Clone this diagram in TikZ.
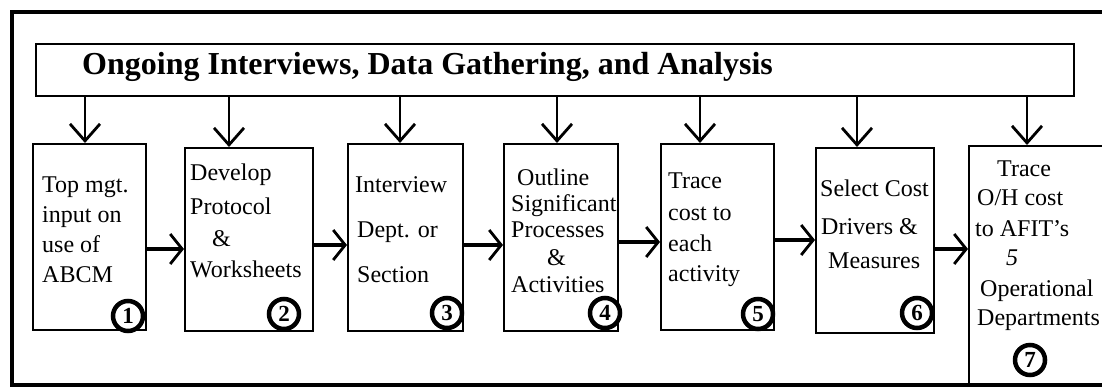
\documentclass[tikz,border=0pt]{standalone}
\usepackage{fontspec}
\setmainfont{Liberation Serif}
\usetikzlibrary{arrows.meta}
\begin{document}
\begin{tikzpicture}[x=1pt,y=-1pt,
  frame/.style={line width=3.6pt},
  headbox/.style={draw, line width=1.8pt, anchor=north west, inner sep=0pt},
  stepbox/.style={draw, line width=1.5pt, anchor=north west, inner sep=0pt},
  down/.style={line width=2.4pt, -{Straight Barb[length=17pt,width=30pt,line width=2.8pt]}},
  flow/.style={line width=4pt, -{Straight Barb[length=12pt,width=30pt,line width=2.8pt]}},
  num/.style={circle, draw, line width=4.5pt, fill=white, inner sep=0pt,
    minimum size=30pt, font=\fontsize{23}{23}\selectfont\bfseries},
  ln/.style={anchor=base west, inner sep=0pt, font=\fontsize{24}{24}\selectfont},
  title/.style={anchor=base west, inner sep=0pt, font=\fontsize{32}{32}\selectfont\bfseries},
]
\useasboundingbox (0,0) rectangle (1102,389);

% outer frame (open on the right)
\draw[frame] (1106,12) -- (12,12) -- (12,385) -- (1106,385);

% heading bar
\node[headbox, minimum width=1038pt, minimum height=52pt] (head) at (35,43) {};
\node[title] (ttl) at (82,74) {Ongoing Interviews, Data Gathering, and Analysis};

% process steps
\node[stepbox, minimum width=113pt, minimum height=186pt] (b1) at (32,143) {};
\node[stepbox, minimum width=128pt, minimum height=183pt] (b2) at (184,147) {};
\node[stepbox, minimum width=115pt, minimum height=187pt] (b3) at (347,143) {};
\node[stepbox, minimum width=114pt, minimum height=187pt] (b4) at (503,143) {};
\node[stepbox, minimum width=113pt, minimum height=186pt] (b5) at (660,143) {};
\node[stepbox, minimum width=118pt, minimum height=185pt] (b6) at (815,147) {};
\node[stepbox, minimum width=140pt, minimum height=238pt] (b7) at (968,145) {};

% step texts
\node[ln] (t1a) at (42,192) {Top mgt.};
\node[ln] (t1b) at (42,222) {input on};
\node[ln] (t1c) at (42,252) {use of};
\node[ln] (t1d) at (42,282) {ABCM};

\node[ln] (t2a) at (190,180) {Develop};
\node[ln] (t2b) at (190,214) {Protocol};
\node[ln] (t2c) at (212,246) {\&};
\node[ln] (t2d) at (190,277) {Worksheets};

\node[ln] (t3a) at (355,192) {Interview};
\node[ln] (t3b) at (357,237) {Dept. or};
\node[ln] (t3c) at (357,282) {Section};

\node[ln] (t4a) at (517,185) {Outline};
\node[ln] (t4b) at (511,211) {Significant};
\node[ln] (t4c) at (511,237) {Processes};
\node[ln] (t4d) at (547,265) {\&};
\node[ln] (t4e) at (511,292) {Activities};

\node[ln] (t5a) at (668,188) {Trace};
\node[ln] (t5b) at (668,220) {cost to};
\node[ln] (t5c) at (668,251) {each};
\node[ln] (t5d) at (668,281) {activity};

\node[ln] (t6a) at (820,196) {Select Cost};
\node[ln] (t6b) at (821,234) {Drivers \&};
\node[ln] (t6c) at (828,268) {Measures};

\node[ln] (t7a) at (997,176) {Trace};
\node[ln] (t7b) at (977,205) {O/H cost};
\node[ln] (t7c) at (975,236) {to AFIT's};
\node[ln] (t7d) at (1006,265) {\itshape 5};
\node[ln] (t7e) at (980,296) {Operational};
\node[ln] (t7f) at (977,325) {Departments};

% arrows from the heading bar down to each step
\foreach \i/\x in {1/85,2/229,3/400,4/557,5/700,6/857,7/1027}{
  \coordinate (dx\i) at (\x,0);
  \draw[down] (head.south -| dx\i) -- (b\i.north -| dx\i);
}

% arrows from step to step
\foreach \a/\b/\y in {1/2/249,2/3/245,3/4/245,4/5/242,5/6/240,6/7/249}{
  \coordinate (hy\a) at (0,\y);
  \draw[flow] (b\a.east |- hy\a) -- (b\b.west |- hy\a);
}

% step numbers
\node[num] (n1) at (128,316) {1};
\node[num] (n2) at (284,314) {2};
\node[num] (n3) at (447,313) {3};
\node[num] (n4) at (605,313) {4};
\node[num] (n5) at (758,314) {5};
\node[num] (n6) at (917,313) {6};
\node[num] (n7) at (1030,360) {7};
\end{tikzpicture}
\end{document}
